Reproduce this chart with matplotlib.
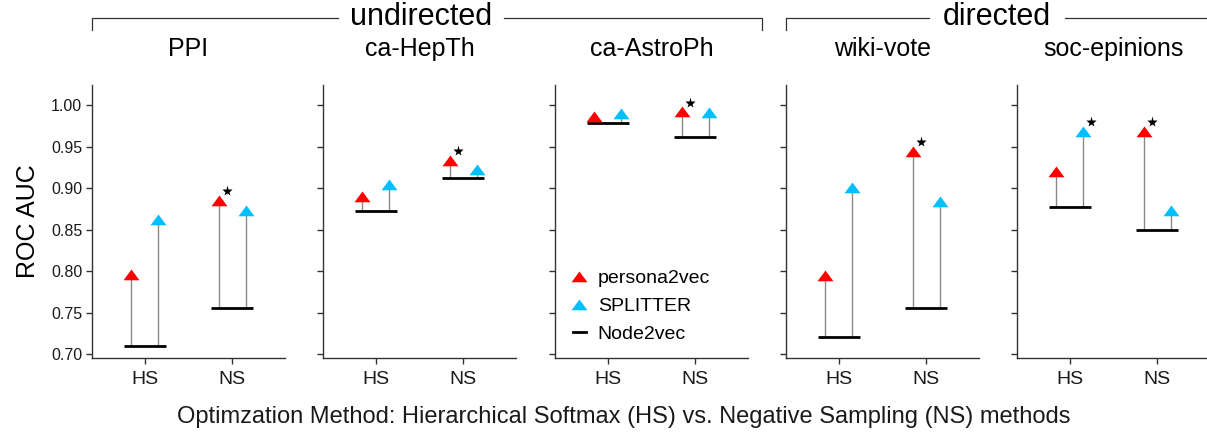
import matplotlib
matplotlib.use('Agg')
import matplotlib.pyplot as plt
from matplotlib.lines import Line2D
from matplotlib.path import Path

plt.rcParams['font.family'] = ['Liberation Sans', 'DejaVu Sans']

datasets = ['PPI', 'ca-HepTh', 'ca-AstroPh', 'wiki-vote', 'soc-epinions']
methods = ['HS', 'NS']
persona2vec = [[0.795, 0.884], [0.889, 0.933], [0.985, 0.991], [0.794, 0.943], [0.919, 0.968]]
splitter = [[0.861, 0.872], [0.904, 0.922], [0.989, 0.990], [0.900, 0.883], [0.968, 0.872]]
node2vec = [[0.710, 0.756], [0.872, 0.912], [0.978, 0.962], [0.720, 0.756], [0.877, 0.849]]
# (dataset, method, series) of the best result, marked with a star
best = [(0, 1, 'p'), (1, 1, 'p'), (2, 1, 'p'), (3, 1, 'p'), (4, 0, 's'), (4, 1, 'p')]
yticks = [0.70, 0.75, 0.80, 0.85, 0.90, 0.95, 1.00]

red = '#ff0000'
blue = '#00bfff'
grey = '#8a8a8a'
axcol = '#333333'
tri = Path([(-1, -0.6), (1, -0.6), (0, 0.75), (-1, -0.6)],
           [Path.MOVETO, Path.LINETO, Path.LINETO, Path.CLOSEPOLY])

W, H = 1207, 433
fig = plt.figure(figsize=(W / 100, H / 100), dpi=100)
lefts = [92, 323, 555, 786, 1017]
axes = []
for i, name in enumerate(datasets):
    ax = fig.add_axes([lefts[i] / W, 1 - 358 / H, 193 / W, 273 / H])
    axes.append(ax)
    xs = [1, 2]
    xp = [x - 0.15 for x in xs]
    xsp = [x + 0.15 for x in xs]
    ax.vlines(xp, node2vec[i], persona2vec[i], color=grey, lw=1.0, zorder=1)
    ax.vlines(xsp, node2vec[i], splitter[i], color=grey, lw=1.0, zorder=1)
    ax.hlines(node2vec[i], [x - 0.24 for x in xs], [x + 0.24 for x in xs],
              color='black', lw=2.0, zorder=2)
    ax.plot(xp, persona2vec[i], ls='none', marker=tri, ms=11.5, color=red, mec='none', zorder=3)
    ax.plot(xsp, splitter[i], ls='none', marker=tri, ms=11.5, color=blue, mec='none', zorder=3)
    for d, m, s in best:
        if d != i:
            continue
        x = xs[m] + (-0.15 if s == 'p' else 0.15)
        v = persona2vec[d][m] if s == 'p' else splitter[d][m]
        ax.plot(x + 0.09, v + 0.012, ls='none', marker='*', ms=8, color='black',
                mec='none', zorder=4)

    ax.set_xlim(0.4, 2.6)
    ax.set_ylim(0.6952, 1.0241)
    ax.set_xticks(xs)
    ax.set_xticklabels(methods, fontsize=14)
    ax.set_yticks(yticks)
    if i == 0:
        ax.set_yticklabels([f'{t:.2f}' for t in yticks], fontsize=11.5)
        ax.set_ylabel('ROC AUC', fontsize=18, labelpad=8)
    else:
        ax.set_yticklabels([])
    ax.set_title(name, fontsize=18, pad=21)
    for sp in ['top', 'right']:
        ax.spines[sp].set_visible(False)
    for sp in ['left', 'bottom']:
        ax.spines[sp].set_color(axcol)
        ax.spines[sp].set_linewidth(1.0)
    ax.tick_params(colors=axcol, length=4, width=1.0, labelcolor='#1a1a1a')
    ax.tick_params(axis='x', pad=5)
    ax.tick_params(axis='y', pad=3)

handles = [Line2D([], [], ls='none', marker=tri, ms=11.5, color=red, mec='none'),
           Line2D([], [], ls='none', marker=tri, ms=11.5, color=blue, mec='none'),
           Line2D([], [], color='black', lw=2.0)]
axes[2].legend(handles, ['persona2vec', 'SPLITTER', 'Node2vec'], loc='lower left',
               bbox_to_anchor=(0.0, -0.01), frameon=False, fontsize=14,
               handlelength=0.7, handletextpad=0.6, labelspacing=0.53)

fig.text(624 / W, 1 - 417 / H,
         'Optimzation Method: Hierarchical Softmax (HS) vs. Negative Sampling (NS) methods',
         ha='center', va='center', fontsize=17, color='#1a1a1a')


def bracket(x0, x1, xc, label, gap, right_drop=True):
    yl = 1 - 18 / H
    yd = 1 - 30 / H
    fig.add_artist(Line2D([x0 / W, x0 / W, (xc - gap) / W], [yd, yl, yl],
                          color=axcol, lw=0.9, transform=fig.transFigure))
    xr = [(xc + gap) / W, x1 / W]
    yr = [yl, yl]
    if right_drop:
        xr.append(x1 / W)
        yr.append(yd)
    fig.add_artist(Line2D(xr, yr, color=axcol, lw=0.9, transform=fig.transFigure))
    fig.text(xc / W, 1 - 17 / H, label, ha='center', va='center', fontsize=22, color='black')


bracket(92, 762, 421, 'undirected', 83)
bracket(786, 1210, 997, 'directed', 68, right_drop=False)

fig.savefig('out.png', dpi=100)
